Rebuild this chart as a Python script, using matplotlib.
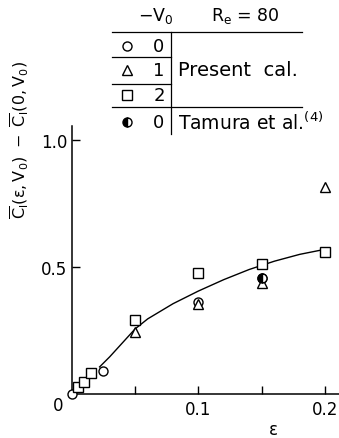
import numpy as np
import matplotlib
matplotlib.use("Agg")
import matplotlib.pyplot as plt

plt.rcParams["font.family"] = ["DejaVu Sans"]
plt.rcParams["mathtext.fontset"] = "dejavusans"

# -- data (Re = 80) --
eps_v0_0 = [0.0, 0.005, 0.01, 0.025, 0.10, 0.15]
cl_v0_0 = [0.0, 0.025, 0.047, 0.090, 0.362, 0.455]

eps_v0_1 = [0.05, 0.10, 0.15, 0.20]
cl_v0_1 = [0.245, 0.355, 0.435, 0.818]

eps_v0_2 = [0.005, 0.01, 0.015, 0.05, 0.10, 0.15, 0.20]
cl_v0_2 = [0.025, 0.047, 0.080, 0.290, 0.476, 0.510, 0.558]

eps_tamura = [0.15]
cl_tamura = [0.458]

# faired curve through the present results
eps_curve = [0.022, 0.03, 0.04, 0.05, 0.06, 0.08, 0.10, 0.12, 0.14, 0.16, 0.18, 0.196]
cl_curve = [0.105, 0.145, 0.200, 0.255, 0.295, 0.355, 0.405, 0.450, 0.490, 0.523, 0.550, 0.566]

W, H = 339, 439
fig = plt.figure(figsize=(W / 100, H / 100), dpi=100)
x0, y0, x1, y1 = 71.7, 394.5, 339, 127
ax = fig.add_axes([x0 / W, 1 - y0 / H, (x1 - x0) / W, (y0 - y1) / H])

ax.plot(eps_curve, cl_curve, color="black", lw=1.0, zorder=2)
mk = dict(color="black", ls="none", mfc="white", mec="black", mew=1.0,
          zorder=3, clip_on=False)
ax.plot(eps_v0_0, cl_v0_0, marker="o", ms=6.5, **mk)
ax.plot(eps_v0_1, cl_v0_1, marker="^", ms=7, **mk)
ax.plot(eps_v0_2, cl_v0_2, marker="s", ms=6.5, **mk)
ax.plot(eps_tamura, cl_tamura, marker="o", ms=6.5, color="black", ls="none",
        fillstyle="left", mfc="black", mfcalt="white", mec="black", mew=1.0, zorder=4)

ax.set_xlim(0, (x1 - x0) / 1267.0)
ax.set_ylim(0, (y0 - y1) / 253.0)
for s in ["top", "right"]:
    ax.spines[s].set_visible(False)
for s in ["left", "bottom"]:
    ax.spines[s].set_linewidth(1.1)

ax.set_xticks([0.05, 0.1, 0.15, 0.2])
ax.set_xticklabels(["", "0.1", "", "0.2"])
ax.set_yticks([0.5, 1.0])
ax.set_yticklabels(["0.5", "1.0"])
ax.tick_params(direction="in", length=6, width=1.0, labelsize=12, pad=5)
ax.tick_params(axis="y", pad=3)
ax.text(-0.011, -0.045, "0", fontsize=12, ha="center", va="center")

ax.set_xlabel("ε", fontsize=12)
ax.xaxis.set_label_coords((273 - x0) / (x1 - x0), -0.10)

fig.text(20 / W, 1 - 140 / H,
         r"$\overline{\mathrm{C}}_\mathrm{l}(\mathrm{\varepsilon}, \mathrm{V}_0)\ -\ "
         r"\overline{\mathrm{C}}_\mathrm{l}(0, \mathrm{V}_0)$",
         rotation=90, ha="center", va="center", fontsize=11.5)

# -- legend table drawn in pixel coordinates --
lg = fig.add_axes([0, 0, 1, 1])
lg.set_xlim(0, W)
lg.set_ylim(H, 0)
lg.axis("off")
lk = dict(color="black", lw=0.9)
lg.plot([112, 302], [32.7, 32.7], **lk)
lg.plot([112, 302], [108.3, 108.3], **lk)
lg.plot([112, 171], [58.3, 58.3], **lk)
lg.plot([112, 171], [85, 85], **lk)
lg.plot([171, 171], [32.7, 135], **lk)

lg.text(156, 16, r"$-\mathrm{V}_0$", fontsize=12.5, ha="center", va="center")
lg.text(245, 16, r"$\mathrm{R}_\mathrm{e}$ = 80", fontsize=12.5, ha="center", va="center")

rows_y = [46.7, 70.7, 96, 123.3]
row_v0 = ["0", "1", "2", "0"]
row_mk = ["o", "^", "s", "o"]
for yy, v in zip(rows_y, row_v0):
    lg.text(159, yy, v, fontsize=13, ha="center", va="center")
for yy, m in zip(rows_y[:3], row_mk[:3]):
    lg.plot([127], [yy], marker=m, ms=6.5, **mk)
lg.plot([127], [rows_y[3]], marker="o", ms=6.5, color="black", ls="none",
        fillstyle="left", mfc="black", mfcalt="white", mec="black", mew=1.0)

lg.text(178, 70.7, "Present  cal.", fontsize=14, ha="left", va="center")
lg.text(178, 123.3, r"Tamura et al.$^{(4)}$", fontsize=13.5, ha="left", va="center")

fig.savefig("out.png", dpi=100)
